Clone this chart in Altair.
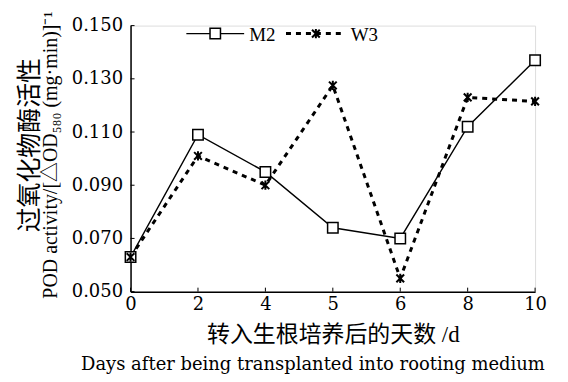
import altair as alt
import pandas as pd

days = ["0", "2", "4", "5", "6", "8", "10"]
m2 = [0.063, 0.109, 0.095, 0.074, 0.070, 0.112, 0.137]
w3 = [0.063, 0.101, 0.090, 0.1275, 0.055, 0.123, 0.1215]
yticks = [0.050, 0.070, 0.090, 0.110, 0.130, 0.150]

df = pd.DataFrame({"day": days * 2, "val": m2 + w3,
                   "series": ["M2"] * len(days) + ["W3"] * len(days)})
dm = df[df.series == "M2"]
dw = df[df.series == "W3"]

SERIF = "Liberation Serif, Noto Sans CJK SC"
WIDE = "DejaVu Serif"
W, H = 406, 267
STAR = "M-1,-1L1,1M-1,1L1,-1M0,-1.2L0,1.2"

xenc = alt.X("day:N", sort=days, scale=alt.Scale(type="point", padding=0),
             axis=alt.Axis(title="转入生根培养后的天数 /d", labelAngle=0,
                           labelFont=WIDE, labelFontSize=18, labelColor="black",
                           titleFont=SERIF, titleFontSize=23, titleFontWeight="normal",
                           titleColor="black", titlePadding=10,
                           tickSize=0, labelPadding=4, domainColor="black",
                           domainWidth=1.5, grid=False))
yenc = alt.Y("val:Q", scale=alt.Scale(domain=[0.05, 0.15], nice=False, zero=False),
             axis=alt.Axis(values=yticks, format=".3f", title=None,
                           labelFont=WIDE, labelFontSize=18, labelColor="black",
                           tickSize=0, labelPadding=8, domainColor="black",
                           domainWidth=1.5, grid=False))

line_m2 = alt.Chart(dm).mark_line(color="black", strokeWidth=1.4).encode(x=xenc, y=yenc)
line_w3 = alt.Chart(dw).mark_line(color="black", strokeWidth=3, strokeDash=[5, 5]).encode(x=xenc, y=yenc)
pt_m2 = alt.Chart(dm).mark_point(shape="square", size=110, filled=True, fill="white",
                                 stroke="black", strokeWidth=1.5, opacity=1).encode(x=xenc, y=yenc)
pt_w3 = alt.Chart(dw).mark_point(shape=STAR, size=60, filled=False, stroke="black",
                                 strokeWidth=2, opacity=1).encode(x=xenc, y=yenc)

ytk = alt.Chart(pd.DataFrame({"v": yticks})).mark_rule(color="black", strokeWidth=1).encode(
    y="v:Q", x=alt.value(0), x2=alt.value(4))
xtk = alt.Chart(pd.DataFrame({"day": days})).mark_rule(color="black", strokeWidth=1).encode(
    x=alt.X("day:N", sort=days), y=alt.value(H), y2=alt.value(H - 4))

# y-axis title, two lines of different sizes
ytitle_cn = alt.Chart(pd.DataFrame({"t": ["过氧化物酶活性"]})).mark_text(
    font=SERIF, fontSize=25, angle=270, align="center", baseline="middle", color="black").encode(
    x=alt.value(-101), y=alt.value(120), text="t:N")
ytitle_en = alt.Chart(pd.DataFrame({"t": ["POD activity/[△OD₅₈₀ (mg·min)]⁻¹"]})).mark_text(
    font=SERIF, fontSize=20, angle=270, align="center", baseline="middle", color="black").encode(
    x=alt.value(-80), y=alt.value(130), text="t:N")

# manual legend
leg = pd.DataFrame({"s": ["M2"]})
lg_m2_line = alt.Chart(leg).mark_rule(color="black", strokeWidth=1.4).encode(
    x=alt.value(56), x2=alt.value(114), y=alt.value(8))
lg_m2_pt = alt.Chart(leg).mark_point(shape="square", size=110, filled=True, fill="white",
                                     stroke="black", strokeWidth=1.5, opacity=1).encode(
    x=alt.value(85), y=alt.value(8))
lg_m2_txt = alt.Chart(leg).mark_text(font=SERIF, fontSize=19, align="left", baseline="middle",
                                     color="black").encode(
    x=alt.value(119), y=alt.value(9), text="s:N")
legw = pd.DataFrame({"s": ["W3"]})
lg_w3_line = alt.Chart(legw).mark_rule(color="black", strokeWidth=3, strokeDash=[5, 5]).encode(
    x=alt.value(156), x2=alt.value(216), y=alt.value(8))
lg_w3_pt = alt.Chart(legw).mark_point(shape=STAR, size=60, filled=False, stroke="black",
                                      strokeWidth=2, opacity=1).encode(
    x=alt.value(186), y=alt.value(8))
lg_w3_txt = alt.Chart(legw).mark_text(font=SERIF, fontSize=19, align="left", baseline="middle",
                                      color="black").encode(
    x=alt.value(221), y=alt.value(9), text="s:N")

eng = alt.Chart(pd.DataFrame({"t": ["Days after being transplanted  into rooting medium"]})).mark_text(
    font=WIDE, fontSize=18, align="center", baseline="alphabetic", color="black").encode(
    x=alt.value(183), y=alt.value(346), text="t:N")

chart = alt.layer(line_m2, line_w3, pt_m2, pt_w3, ytk, xtk, ytitle_cn, ytitle_en,
                  lg_m2_line, lg_m2_pt, lg_m2_txt, lg_w3_line, lg_w3_pt, lg_w3_txt, eng
                  ).properties(width=W, height=H, padding={"left": 123, "top": 17, "right": 25, "bottom": 86},
                               autosize=alt.AutoSizeParams(type="none")
                  ).configure_view(stroke=None).configure(background="white")

chart.save("out.html", embed_options={"renderer": "svg", "actions": False})
